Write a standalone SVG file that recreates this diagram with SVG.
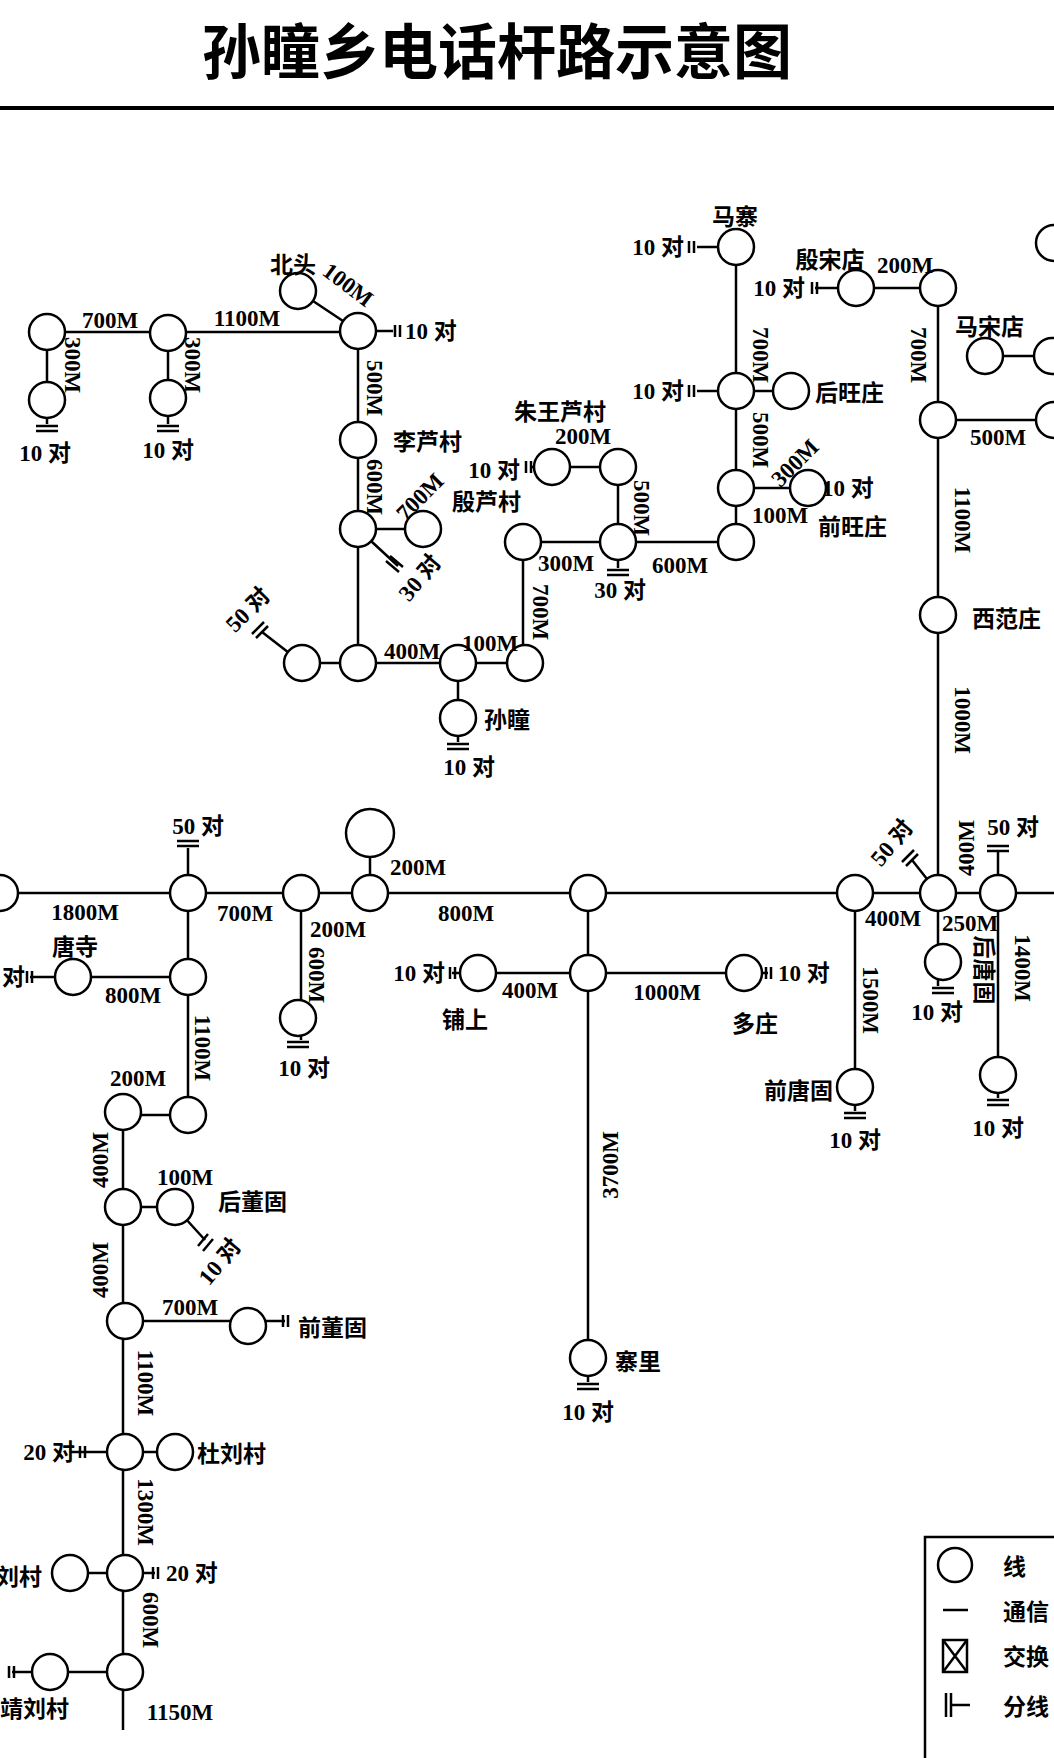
<svg xmlns="http://www.w3.org/2000/svg" width="1054" height="1758" viewBox="0 0 1054 1758">
<style>
.n{fill:#fff;stroke:#000;stroke-width:2.5}
.l{stroke:#000;stroke-width:2.5;fill:none}
.b{stroke:#000;stroke-width:2.5}
text{font-family:"Liberation Serif","Noto Sans CJK SC",serif;font-weight:bold;font-size:23px;fill:#000}
.c{font-family:"Noto Sans CJK SC","Liberation Serif",sans-serif;font-weight:bold}
.m{text-anchor:middle;dominant-baseline:central}
.s{dominant-baseline:central}
.e{text-anchor:end;dominant-baseline:central}
</style>
<rect width="1054" height="1758" fill="#fff"/>
<text x="497" y="47" class="c m" style="font-size:60px" textLength="590" lengthAdjust="spacingAndGlyphs">孙瞳乡电话杆路示意图</text>
<line x1="0" y1="108" x2="1054" y2="108" stroke="#000" stroke-width="4"/>
<g id="connectors">
<path class="l" d="M47,332H358M47,332V400M168,333V398M298,291L358,331M358,331H393M358,331V663M358,529H423M358,529L398,566M302,663H525M302,663L262,632M458,663V742M47,400V424M168,398V424M523,663V542H618V467H552V467H530M618,542V568M618,542H736V247M736,247H697M736,391H697M736,391H791M808,488H828M736,488H808M856,288H938V893M856,288H815M938,420H1054M985,356H1054M0,893H1054M188,893V848M370,833V893M301,893V1040M188,893V1115H123V1730M73,977H188M73,977H30M123,1207H175L205,1240M125,1321H248H285M70,1452H125H175M125,1573H155M70,1573H125M50,1672H125M50,1672H12M588,893V1382M478,973H744H768M478,973H452M855,893V1111M938,893L912,860M938,893V986M998,893V852M998,893V1098"/>
<path class="b" d="M395,325V337M400,325V337M386,561L399,572M390,556L403,567M256,638L268,626M252,634L264,622M36,426H58M36,431H58M157,426H179M157,431H179M447,744H469M447,749H469M526,461V473M531,461V473M607,570H629M607,575H629M694,241V253M689,241V253M694,385V397M689,385V397M810,482V494M815,482V494M812,282V294M817,282V294M177,846H199M177,841H199M287,1042H309M287,1047H309M32,971V983M27,971V983M198,1246L208,1234M203,1251L213,1239M283,1315V1327M288,1315V1327M80,1446V1458M85,1446V1458M153,1567V1579M158,1567V1579M9,1666V1678M14,1666V1678M450,967V979M455,967V979M766,967V979M771,967V979M577,1384H599M577,1389H599M844,1113H866M844,1118H866M906,866L918,854M902,862L914,850M987,851H1009M987,846H1009M932,988H954M932,993H954M987,1100H1009M987,1105H1009"/>
</g>
<g id="nodes">
<circle class="n" cx="47" cy="332" r="18"/><circle class="n" cx="47" cy="400" r="18"/>
<circle class="n" cx="168" cy="333" r="18"/><circle class="n" cx="168" cy="398" r="18"/>
<g id="beitou"><circle class="n" cx="298" cy="291" r="18"/><text x="293" y="263" class="c m">北头</text></g>
<circle class="n" cx="358" cy="331" r="18"/>
<g id="lilu"><circle class="n" cx="358" cy="440" r="18"/><text x="393" y="440" class="c s">李芦村</text></g>
<circle class="n" cx="358" cy="529" r="18"/>
<g id="yinlu"><circle class="n" cx="423" cy="529" r="18"/><text x="452" y="500" class="c s">殷芦村</text></g>
<circle class="n" cx="358" cy="663" r="18"/><circle class="n" cx="302" cy="663" r="18"/>
<circle class="n" cx="458" cy="663" r="18"/><circle class="n" cx="525" cy="663" r="18"/>
<g id="suntong"><circle class="n" cx="458" cy="718" r="18"/><text x="484" y="718" class="c s">孙瞳</text></g>
<circle class="n" cx="523" cy="542" r="18"/><circle class="n" cx="618" cy="542" r="18"/>
<g id="zhuwang"><circle class="n" cx="552" cy="467" r="18"/><circle class="n" cx="618" cy="467" r="18"/><text x="560" y="410" class="c m">朱王芦村</text></g>
<g id="mazhai"><circle class="n" cx="736" cy="247" r="18"/><text x="735" y="215" class="c m">马寨</text></g>
<circle class="n" cx="736" cy="391" r="18"/>
<g id="houwang"><circle class="n" cx="791" cy="391" r="18"/><text x="815" y="391" class="c s">后旺庄</text></g>
<circle class="n" cx="736" cy="488" r="18"/>
<g id="qianwang"><circle class="n" cx="808" cy="488" r="18"/><text x="818" y="525" class="c s">前旺庄</text></g>
<circle class="n" cx="736" cy="542" r="18"/>
<g id="yinsong"><circle class="n" cx="856" cy="288" r="18"/><text x="830" y="258" class="c m">殷宋店</text></g>
<circle class="n" cx="938" cy="288" r="18"/>
<circle class="n" cx="1054" cy="243" r="18"/>
<g id="masong"><circle class="n" cx="985" cy="356" r="18"/><circle class="n" cx="1052" cy="356" r="18"/><text x="955" y="325" class="c s">马宋店</text></g>
<circle class="n" cx="938" cy="420" r="18"/><circle class="n" cx="1054" cy="420" r="18"/>
<g id="xifan"><circle class="n" cx="938" cy="615" r="18"/><text x="972" y="617" class="c s">西范庄</text></g>
<circle class="n" cx="0" cy="893" r="18"/><circle class="n" cx="188" cy="893" r="18"/>
<circle class="n" cx="301" cy="893" r="18"/><circle class="n" cx="370" cy="893" r="18"/>
<circle class="n" cx="370" cy="833" r="24"/>
<circle class="n" cx="588" cy="893" r="18"/><circle class="n" cx="855" cy="893" r="18"/>
<circle class="n" cx="938" cy="893" r="18"/><circle class="n" cx="998" cy="893" r="18"/>
<g id="tangsi"><circle class="n" cx="73" cy="977" r="18"/><text x="75" y="945" class="c m">唐寺</text></g>
<circle class="n" cx="188" cy="977" r="18"/>
<circle class="n" cx="298" cy="1018" r="18"/>
<circle class="n" cx="188" cy="1115" r="18"/><circle class="n" cx="123" cy="1112" r="18"/>
<circle class="n" cx="123" cy="1207" r="18"/>
<g id="houdong"><circle class="n" cx="175" cy="1207" r="18"/><text x="218" y="1200" class="c s">后董固</text></g>
<circle class="n" cx="125" cy="1321" r="18"/>
<g id="qiandong"><circle class="n" cx="248" cy="1326" r="18"/><text x="298" y="1326" class="c s">前董固</text></g>
<circle class="n" cx="125" cy="1452" r="18"/>
<g id="duliu"><circle class="n" cx="175" cy="1452" r="18"/><text x="197" y="1452" class="c s">杜刘村</text></g>
<circle class="n" cx="125" cy="1573" r="18"/>
<g id="liucun"><circle class="n" cx="70" cy="1573" r="18"/><text x="42" y="1575" class="c e">刘村</text></g>
<circle class="n" cx="125" cy="1672" r="18"/>
<g id="jingliu"><circle class="n" cx="50" cy="1672" r="18"/><text x="0" y="1707" class="c s">靖刘村</text></g>
<circle class="n" cx="588" cy="973" r="18"/>
<g id="pushang"><circle class="n" cx="478" cy="973" r="18"/><text x="465" y="1018" class="c m">铺上</text></g>
<g id="duozhuang"><circle class="n" cx="744" cy="973" r="18"/><text x="755" y="1022" class="c m">多庄</text></g>
<g id="qiantang"><circle class="n" cx="855" cy="1087" r="18"/><text x="833" y="1089" class="c e">前唐固</text></g>
<g id="houtang"><circle class="n" cx="943" cy="962" r="18"/><text x="986" y="970" class="c m" transform="rotate(90 986 970)">后唐固</text></g>
<circle class="n" cx="998" cy="1075" r="18"/>
<g id="zhaili"><circle class="n" cx="588" cy="1358" r="18"/><text x="615" y="1360" class="c s">寨里</text></g>
</g>
<g id="labels">
<text x="110" y="320" class="m">700M</text>
<text x="247" y="318" class="m">1100M</text>
<text x="72" y="365" class="m" transform="rotate(90 72 365)">300M</text>
<text x="192" y="365" class="m" transform="rotate(90 192 365)">300M</text>
<text x="348" y="285" class="m" transform="rotate(37 348 285)">100M</text>
<text x="374" y="388" class="m" transform="rotate(90 374 388)">500M</text>
<text x="374" y="487" class="m" transform="rotate(90 374 487)">600M</text>
<text x="420" y="497" class="m" transform="rotate(-45 420 497)">700M</text>
<text x="412" y="651" class="m">400M</text>
<text x="490" y="643" class="m">100M</text>
<text x="540" y="612" class="m" transform="rotate(90 540 612)">700M</text>
<text x="566" y="563" class="m">300M</text>
<text x="680" y="565" class="m">600M</text>
<text x="641" y="508" class="m" transform="rotate(90 641 508)">500M</text>
<text x="583" y="436" class="m">200M</text>
<text x="760" y="355" class="m" transform="rotate(90 760 355)">700M</text>
<text x="760" y="440" class="m" transform="rotate(90 760 440)">500M</text>
<text x="795" y="463" class="m" transform="rotate(-45 795 463)">300M</text>
<text x="780" y="515" class="m">100M</text>
<text x="905" y="265" class="m">200M</text>
<text x="918" y="355" class="m" transform="rotate(90 918 355)">700M</text>
<text x="998" y="437" class="m">500M</text>
<text x="962" y="520" class="m" transform="rotate(90 962 520)">1100M</text>
<text x="962" y="720" class="m" transform="rotate(90 962 720)">1000M</text>
<text x="85" y="912" class="m">1800M</text>
<text x="245" y="913" class="m">700M</text>
<text x="338" y="929" class="m">200M</text>
<text x="418" y="867" class="m">200M</text>
<text x="466" y="913" class="m">800M</text>
<text x="316" y="975" class="m" transform="rotate(90 316 975)">600M</text>
<text x="133" y="995" class="m">800M</text>
<text x="202" y="1048" class="m" transform="rotate(90 202 1048)">1100M</text>
<text x="138" y="1078" class="m">200M</text>
<text x="100" y="1160" class="m" transform="rotate(-90 100 1160)">400M</text>
<text x="185" y="1177" class="m">100M</text>
<text x="100" y="1270" class="m" transform="rotate(-90 100 1270)">400M</text>
<text x="190" y="1307" class="m">700M</text>
<text x="145" y="1383" class="m" transform="rotate(90 145 1383)">1100M</text>
<text x="145" y="1512" class="m" transform="rotate(90 145 1512)">1300M</text>
<text x="150" y="1620" class="m" transform="rotate(90 150 1620)">600M</text>
<text x="180" y="1712" class="m">1150M</text>
<text x="530" y="990" class="m">400M</text>
<text x="667" y="992" class="m">1000M</text>
<text x="610" y="1165" class="m" transform="rotate(-90 610 1165)">3700M</text>
<text x="870" y="1000" class="m" transform="rotate(90 870 1000)">1500M</text>
<text x="893" y="918" class="m">400M</text>
<text x="966" y="848" class="m" transform="rotate(-90 966 848)">400M</text>
<text x="970" y="923" class="m">250M</text>
<text x="1022" y="968" class="m" transform="rotate(90 1022 968)">1400M</text>
</g>
<g id="pairs">
<text x="405" y="331" class="s">10 对</text>
<text x="420" y="578" class="m" transform="rotate(-50 420 578)">30 对</text>
<text x="248" y="610" class="m" transform="rotate(-45 248 610)">50 对</text>
<text x="45" y="453" class="m">10 对</text>
<text x="168" y="450" class="m">10 对</text>
<text x="469" y="767" class="m">10 对</text>
<text x="520" y="470" class="e">10 对</text>
<text x="620" y="590" class="m">30 对</text>
<text x="684" y="247" class="e">10 对</text>
<text x="684" y="391" class="e">10 对</text>
<text x="822" y="488" class="s">10 对</text>
<text x="805" y="288" class="e">10 对</text>
<text x="198" y="826" class="m">50 对</text>
<text x="304" y="1068" class="m">10 对</text>
<text x="25" y="977" class="e">对</text>
<text x="220" y="1262" class="m" transform="rotate(-50 220 1262)">10 对</text>
<text x="75" y="1452" class="e">20 对</text>
<text x="166" y="1573" class="s">20 对</text>
<text x="445" y="973" class="e">10 对</text>
<text x="778" y="973" class="s">10 对</text>
<text x="588" y="1412" class="m">10 对</text>
<text x="855" y="1140" class="m">10 对</text>
<text x="892" y="843" class="m" transform="rotate(-50 892 843)">50 对</text>
<text x="937" y="1012" class="m">10 对</text>
<text x="1013" y="827" class="m">50 对</text>
<text x="998" y="1128" class="m">10 对</text>
</g>
<g id="legend">
<rect x="925" y="1537" width="150" height="240" class="l"/>
<circle class="n" cx="955" cy="1565" r="17"/>
<text x="1003" y="1565" class="c s">线</text>
<line x1="943" y1="1610" x2="968" y2="1610" class="b"/>
<text x="1003" y="1610" class="c s">通信</text>
<rect x="943" y="1640" width="24" height="32" class="l"/>
<path class="b" d="M943,1640L967,1672M967,1640L943,1672"/>
<text x="1003" y="1655" class="c s">交换</text>
<path class="b" d="M946,1693V1717M951,1693V1717M951,1705H970"/>
<text x="1003" y="1705" class="c s">分线</text>
</g>
</svg>
